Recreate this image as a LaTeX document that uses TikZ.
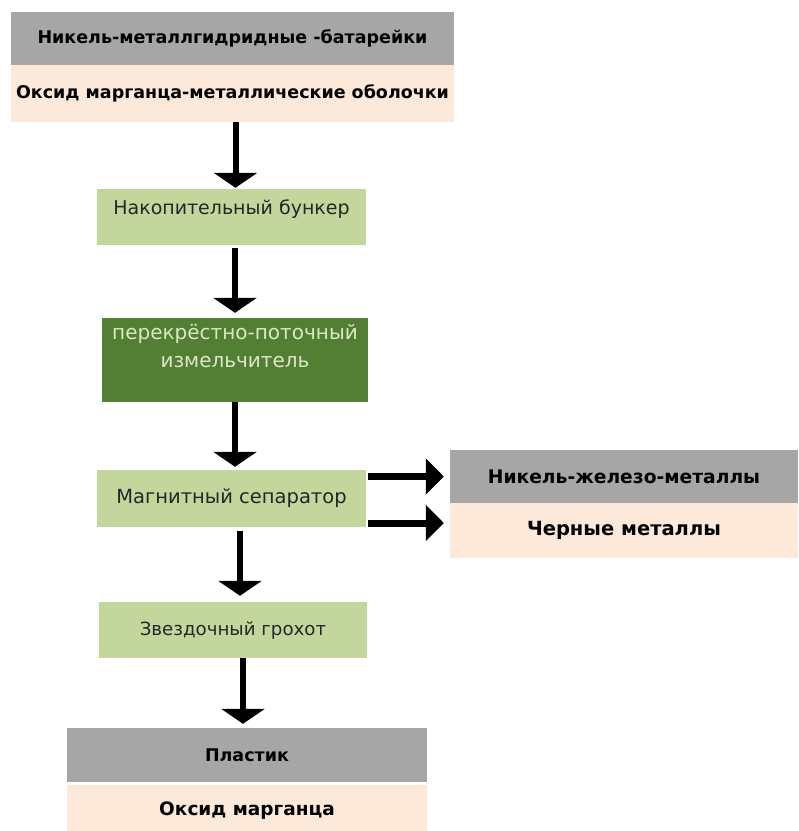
\documentclass[tikz,border=0pt]{standalone}
\usepackage{fontspec}
\setmainfont{DejaVu Sans}
\usetikzlibrary{arrows.meta}
\definecolor{headgray}{HTML}{A6A6A6}
\definecolor{peach}{HTML}{FDE9D9}
\definecolor{stagegreen}{HTML}{C3D69B}
\definecolor{deepgreen}{HTML}{527F34}
\definecolor{palegreen}{HTML}{DCE7C4}
\begin{document}
\begin{tikzpicture}[x=1pt, y=-1pt,
    every node/.style={inner sep=0pt, align=center},
    headbox/.style={fill=headgray, font=\bfseries\fontsize{#1}{#1}\selectfont},
    headbox/.default=17.5,
    subbox/.style={fill=peach, font=\bfseries\fontsize{#1}{#1}\selectfont},
    subbox/.default=17.5,
    stagebox/.style={fill=stagegreen, minimum width=269, minimum height=56, text=black!85, font=\fontsize{#1}{20}\selectfont},
    stagebox/.default=17.5,
    downarrow/.style={line width=6pt, -{Triangle[width=43pt, length=15pt]}, shorten >=1pt},
    sidearrow/.style={line width=7pt, -{Triangle[width=35pt, length=18pt]}}]
    \useasboundingbox (0,0) rectangle (799,831);

    \node (battery) [headbox, minimum width=443, minimum height=53] at (232.5,38.5) {Никель-металлгидридные -батарейки};
    \node (shells) [subbox, minimum width=443, minimum height=57] at (232.5,93.5) {Оксид марганца-металлические оболочки};

    \node (bunker) [stagebox=19] at (231.5,217) {Накопительный бункер\\\mbox{}};
    \node (shredder) [stagebox=20, fill=deepgreen, text=palegreen, minimum width=266, minimum height=84, font=\fontsize{20}{28}\selectfont] at (235,360) {перекрёстно-поточный\\измельчитель\\\mbox{}};
    \node (separator) [stagebox=19.5, minimum height=57] at (231.5,498.5) {Магнитный сепаратор};
    \node (screen) [stagebox=18.2, minimum width=268] at (233,630) {Звездочный грохот};

    \node (nickel) [headbox=18.7, minimum width=348, minimum height=53] at (624,476.5) {Никель-железо-металлы};
    \node (ferrous) [subbox=19.5, minimum width=348, minimum height=55] at (624,530.5) {Черные металлы};

    \node (plastic) [headbox, minimum width=360, minimum height=54] at (247,755) {Пластик};
    \node (oxide) [subbox=18.5, minimum width=360, minimum height=49, text height=12pt, text depth=0pt, yshift=-3pt] at (247,806.5) {Оксид марганца};

    % flow
    \draw[downarrow] ([xshift=3pt]shells.south) -- ([xshift=3pt]shells.south |- bunker.north);
    \draw[downarrow] ([xshift=3.5pt,yshift=-3pt]bunker.south) -- ([yshift=4pt]shredder.north);
    \draw[downarrow] (shredder.south) -- ([xshift=3.5pt,yshift=2pt]separator.north);
    \draw[downarrow] ([xshift=8.5pt,yshift=-4pt]separator.south) -- ([xshift=7pt,yshift=5pt]screen.north);
    \draw[downarrow] ([xshift=10pt]screen.south) -- ([xshift=-4pt,yshift=3pt]plastic.north);

    \draw[sidearrow] ([xshift=2pt]separator.east |- nickel.west) -- ([xshift=-6pt]nickel.west);
    \draw[sidearrow] ([xshift=2pt,yshift=-24.5pt]separator.east) -- ([xshift=-6pt,yshift=-24.5pt]separator.east -| ferrous.west);
\end{tikzpicture}
\end{document}
